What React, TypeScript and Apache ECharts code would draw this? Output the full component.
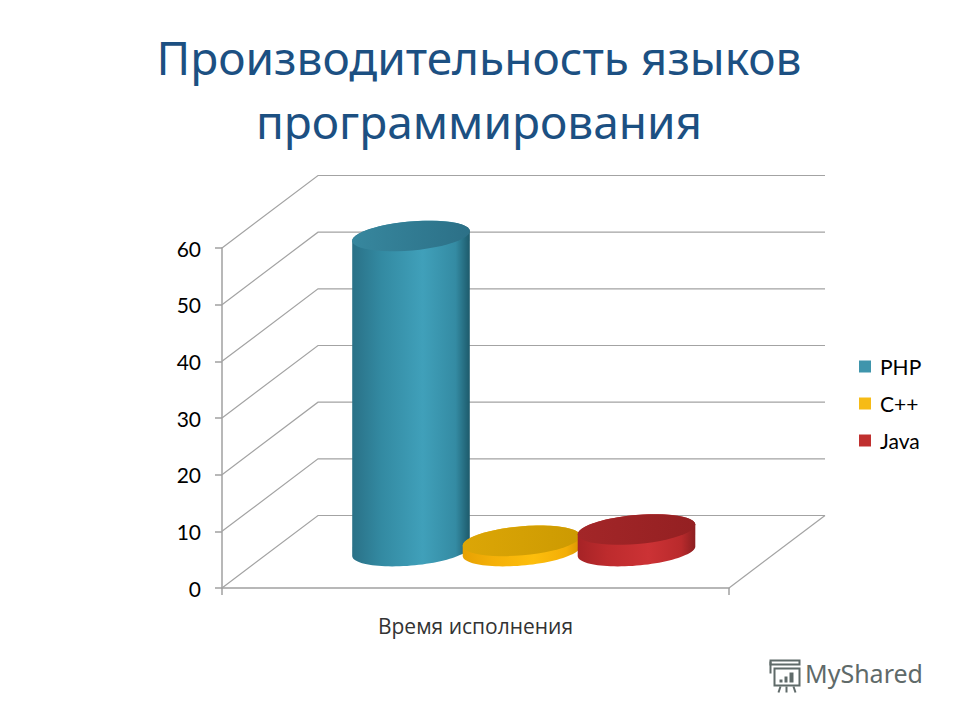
import React, { useEffect, useRef } from "react";
import * as echarts from "echarts";

const titleText = "Производительность языков\nпрограммирования";
const categories = ["Время исполнения"];
const seriesNames = ["PHP", "C++", "Java"];
const phpValues = [55.6];
const cppValues = [1.8];
const javaValues = [3.8];
const yTicks = [0, 10, 20, 30, 40, 50, 60];
const legendColors = ["#3f95ac", "#f6bb16", "#c0302f"];
const watermark = "MyShared";

const DEPTH_X = 96;
const DEPTH_Y = -72.5;
const TILT = (-5 * Math.PI) / 180;

const palettes = [
  { stops: ["#2a7187", "#338aa2", "#40a0ba", "#348ba3", "#1d5a6b"], top: ["#37879e", "#2c7087"] },
  { stops: ["#e6a103", "#f4b008", "#fdbe0c", "#f3ae07", "#d99602"], top: ["#dca606", "#cc9a02"] },
  { stops: ["#a62326", "#bd2b2d", "#cc3235", "#b92a2c", "#8c1f21"], top: ["#a32628", "#942022"] },
];
const barOffsets = [-112.5, -2, 113];
const RX = 59;
const RY = 14.5;

function ellipsePoint(cx: number, cy: number, t: number): number[] {
  const c = Math.cos(TILT);
  const s = Math.sin(TILT);
  return [
    cx + RX * Math.cos(t) * c - RY * Math.sin(t) * s,
    cy + RX * Math.cos(t) * s + RY * Math.sin(t) * c,
  ];
}

function arc(cx: number, cy: number, from: number, to: number): number[][] {
  const pts: number[][] = [];
  const n = 48;
  for (let i = 0; i <= n; i++) pts.push(ellipsePoint(cx, cy, from + ((to - from) * i) / n));
  return pts;
}

function cylinderRender(index: number) {
  return (params: any, api: any) => {
    const sys = params.coordSys;
    const base = api.coord([api.value(0), 0]);
    const top = api.coord([api.value(0), api.value(1)]);
    const cx = sys.x + sys.width / 2 + DEPTH_X / 2 + barOffsets[index];
    const by = base[1] + DEPTH_Y / 2 - 0.7;
    const ty = top[1] + DEPTH_Y / 2 - 0.7;
    const t0 = Math.atan2(-RY * Math.sin(TILT), RX * Math.cos(TILT));
    const p = palettes[index];
    const sideStops = p.stops.map((color, i) => ({ offset: [0, 0.25, 0.6, 0.88, 1][i], color }));
    const body = [...arc(cx, by, t0, t0 + Math.PI), ...arc(cx, ty, t0 + Math.PI, t0 + 2 * Math.PI)];
    return {
      type: "group",
      children: [
        {
          type: "polygon",
          shape: { points: body },
          style: { fill: new echarts.graphic.LinearGradient(0, 0, 1, 0, sideStops) },
        },
        {
          type: "polygon",
          shape: { points: arc(cx, ty, 0, 2 * Math.PI) },
          style: {
            fill: new echarts.graphic.LinearGradient(0, 0, 1, 0, [
              { offset: 0, color: p.top[0] },
              { offset: 1, color: p.top[1] },
            ]),
          },
        },
      ],
    };
  };
}

function wallRender(params: any, api: any) {
  const sys = params.coordSys;
  const v = api.value(1);
  const y = api.coord([0, v])[1];
  const left = sys.x;
  const right = sys.x + sys.width;
  const children: any[] = [
    {
      type: "polyline",
      shape: {
        points: [
          [left, y],
          [left + DEPTH_X, y + DEPTH_Y],
          [right + DEPTH_X, y + DEPTH_Y],
        ],
      },
      style: { fill: "none", stroke: "#a3a3a3", lineWidth: 1.2 },
    },
  ];
  if (v === 0) {
    children.push({
      type: "line",
      shape: { x1: right, y1: y, x2: right + DEPTH_X, y2: y + DEPTH_Y },
      style: { stroke: "#a3a3a3", lineWidth: 1.2 },
    });
  }
  return { type: "group", children };
}

const seriesValues = [phpValues, cppValues, javaValues];

export default function App() {
  const ref = useRef<HTMLDivElement>(null);
  useEffect(() => {
    document.body.style.margin = "0";
    document.body.style.background = "#ffffff";
    const chart = echarts.init(ref.current!, undefined, { renderer: "svg" });
    chart.setOption({
      animation: false,
      backgroundColor: "#ffffff",
      title: {
        text: titleText,
        left: 474,
        top: 20,
        textAlign: "center",
        textStyle: {
          fontFamily: "Noto Sans",
          fontWeight: "normal",
          fontSize: 46,
          lineHeight: 64,
          color: "#1c5082",
        },
      },
      grid: { left: 222, top: 248, width: 507, height: 340, containLabel: false },
      xAxis: {
        type: "category",
        data: categories,
        boundaryGap: true,
        axisLine: { lineStyle: { color: "#a0a0a0", width: 1.5 } },
        axisTick: { show: true, length: 7, lineStyle: { color: "#a0a0a0", width: 1.5 } },
        axisLabel: {
          color: "#333333",
          fontFamily: "Open Sans",
          fontSize: 21,
          margin: 27,
        },
      },
      yAxis: {
        type: "value",
        min: 0,
        max: 60,
        interval: 10,
        splitLine: { show: false },
        axisLine: { show: true, lineStyle: { color: "#a0a0a0", width: 1.5 } },
        axisTick: { show: true, length: 7, lineStyle: { color: "#a0a0a0", width: 1.5 } },
        axisLabel: {
          color: "#000000",
          fontFamily: "Lato",
          fontSize: 21,
          margin: 21,
          padding: [2, 0, 0, 0],
        },
      },
      legend: {
        data: seriesNames,
        orient: "vertical",
        left: 859,
        top: 356,
        padding: 0,
        itemWidth: 12,
        itemHeight: 12,
        itemGap: 16,
        icon: "rect",
        selectedMode: false,
        textStyle: { color: "#000000", fontFamily: "Lato", fontSize: 21, padding: [0, 0, 0, 4] },
      },
      series: [
        {
          type: "custom",
          name: "walls",
          renderItem: wallRender,
          data: yTicks.map((v) => [0, v]),
          silent: true,
          clip: false,
          z: 1,
        },
        ...seriesNames.map((name, i) => ({
          type: "custom",
          name,
          renderItem: cylinderRender(i),
          data: seriesValues[i].map((v, c) => [c, v]),
          encode: { x: 0, y: 1 },
          itemStyle: { color: legendColors[i] },
          clip: false,
          z: 2 + i,
        })),
      ],
      graphic: [
        {
          type: "text",
          left: 805,
          top: 660,
          style: {
            text: watermark,
            fontFamily: "Noto Sans",
            fontSize: 25,
            fill: "#5f6a69",
          },
        },
        {
          type: "group",
          left: 768,
          top: 658,
          children: [
            { type: "rect", x: 3, y: 1, shape: { width: 29, height: 4 }, style: { fill: "none", stroke: "#5f6a69", lineWidth: 2 } },
            { type: "rect", x: 7, y: 9, shape: { width: 25, height: 17 }, style: { fill: "none", stroke: "#5f6a69", lineWidth: 2 } },
            { type: "rect", x: 12, y: 20, shape: { width: 3, height: 3 }, style: { fill: "#5f6a69" } },
            { type: "rect", x: 17, y: 17, shape: { width: 3, height: 6 }, style: { fill: "#5f6a69" } },
            { type: "rect", x: 22, y: 13, shape: { width: 4, height: 10 }, style: { fill: "#5f6a69" } },
            { type: "line", shape: { x1: 3, y1: 2, x2: 3, y2: 14 }, style: { stroke: "#5f6a69", lineWidth: 2 } },
            { type: "line", shape: { x1: 13, y1: 27, x2: 11, y2: 33 }, style: { stroke: "#5f6a69", lineWidth: 2 } },
            { type: "line", shape: { x1: 19, y1: 27, x2: 19, y2: 33 }, style: { stroke: "#5f6a69", lineWidth: 2 } },
            { type: "line", shape: { x1: 26, y1: 27, x2: 28, y2: 33 }, style: { stroke: "#5f6a69", lineWidth: 2 } },
          ],
        },
      ],
    });
    return () => chart.dispose();
  }, []);
  return <div ref={ref} style={{ width: 960, height: 720 }} />;
}
